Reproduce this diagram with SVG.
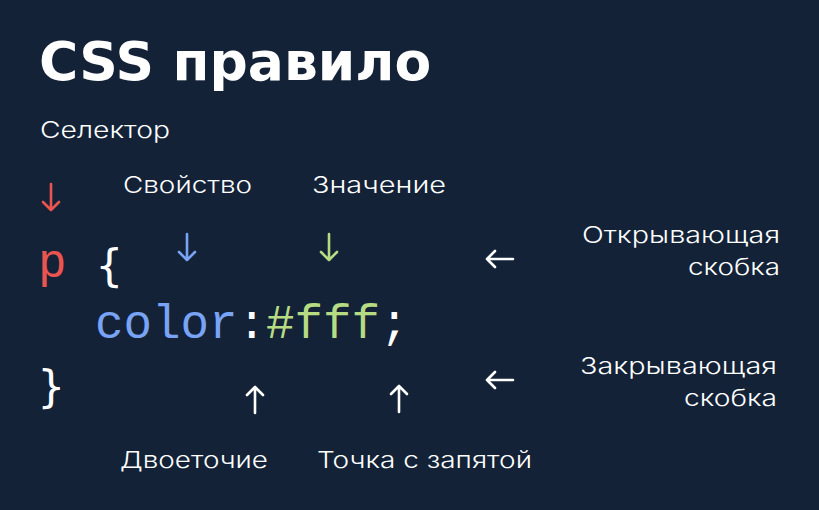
<svg xmlns="http://www.w3.org/2000/svg" width="819" height="510" viewBox="0 0 819 510">
<style>
.lbl{font-family:Inter,"Noto Sans",sans-serif;font-size:22.5px;fill:#ffffff;font-weight:300}
.code{font-family:"Liberation Mono",monospace;font-size:47.5px}
.br{font-family:"DejaVu Sans Mono",monospace;font-size:44px;fill:#ffffff}
.arr{fill:none;stroke-width:2.6;stroke-linecap:round;stroke-linejoin:round}
</style>
<rect width="819" height="510" fill="#132237"/>
<text x="39" y="80" font-family="DejaVu Sans" font-weight="bold" font-size="53.5" fill="#ffffff">CSS правило</text>
<g id="code">
<text class="code" x="38" y="277" fill="#ea5550">p</text>
<text class="br" x="96" y="281">{</text>
<text class="code" x="95" y="338"><tspan fill="#79a3f4">color</tspan><tspan fill="#ffffff">:</tspan><tspan fill="#b6db82">#fff</tspan><tspan fill="#ffffff">;</tspan></text>
<text class="br" x="38" y="402">}</text>
</g>
<g id="selector"><text class="lbl" x="40" y="138" textLength="130" lengthAdjust="spacingAndGlyphs">Селектор</text></g>
<g id="property"><text class="lbl" x="123" y="193" textLength="129" lengthAdjust="spacingAndGlyphs">Свойство</text></g>
<g id="value"><text class="lbl" x="312" y="193" textLength="134" lengthAdjust="spacingAndGlyphs">Значение</text></g>
<g id="open"><text class="lbl" x="582" y="243" textLength="198" lengthAdjust="spacingAndGlyphs">Открывающая</text><text class="lbl" x="688" y="275" textLength="92" lengthAdjust="spacingAndGlyphs">скобка</text></g>
<g id="close"><text class="lbl" x="580" y="374" textLength="197" lengthAdjust="spacingAndGlyphs">Закрывающая</text><text class="lbl" x="684" y="406" textLength="93" lengthAdjust="spacingAndGlyphs">скобка</text></g>
<g id="colon"><text class="lbl" x="120" y="468" textLength="148" lengthAdjust="spacingAndGlyphs">Двоеточие</text></g>
<g id="semicolon"><text class="lbl" x="317" y="468" textLength="215" lengthAdjust="spacingAndGlyphs">Точка с запятой</text></g>
<g id="connectors">
<path class="arr" stroke="#ea5550" d="M51 184V210M43 202L51 210L59 202"/>
<path class="arr" stroke="#79a3f4" d="M187 234V260M179 252L187 260L195 252"/>
<path class="arr" stroke="#b6db82" d="M329 234V260M321 252L329 260L337 252"/>
<path class="arr" stroke="#ffffff" d="M513 259H487M495 251L487 259L495 267"/>
<path class="arr" stroke="#ffffff" d="M513 380H487M495 372L487 380L495 388"/>
<path class="arr" stroke="#ffffff" d="M255 413V387M247 395L255 387L263 395"/>
<path class="arr" stroke="#ffffff" d="M399 412V386M391 394L399 386L407 394"/>
</g>
</svg>
